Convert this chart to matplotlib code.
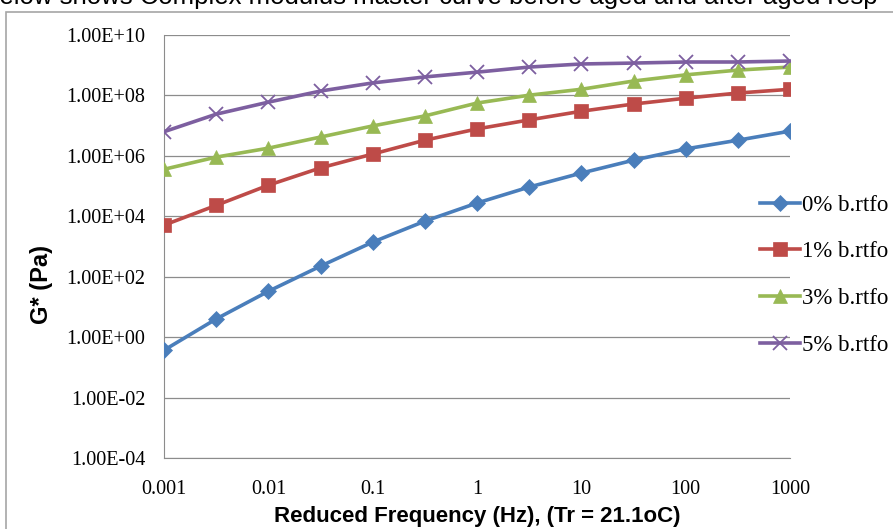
import matplotlib.pyplot as plt
import matplotlib.ticker as mticker
from matplotlib.patches import Rectangle

# reduced frequency (Hz), half-decade steps
freq = [0.001, 0.00316, 0.01, 0.0316, 0.1, 0.316, 1, 3.16, 10, 31.6, 100, 316, 1000]

# |G*| (Pa)
g_0pct = [0.37, 4.0, 33, 224, 1.4e3, 6.9e3, 2.75e4, 9.3e4, 2.7e5, 7.2e5, 1.7e6, 3.3e6, 6.6e6]
g_1pct = [5.1e3, 2.3e4, 1.07e5, 4.0e5, 1.15e6, 3.3e6, 7.8e6, 1.55e7, 3.0e7, 5.2e7, 8.1e7, 1.2e8, 1.6e8]
g_3pct = [3.6e5, 9.1e5, 1.8e6, 4.2e6, 9.8e6, 2.1e7, 5.6e7, 1.02e8, 1.6e8, 3.0e8, 4.8e8, 6.9e8, 8.7e8]
g_5pct = [6.3e6, 2.4e7, 6.0e7, 1.4e8, 2.6e8, 4.1e8, 5.9e8, 8.7e8, 1.1e9, 1.18e9, 1.28e9, 1.28e9, 1.38e9]

labels = ["0% b.rtfo", "1% b.rtfo", "3% b.rtfo", "5% b.rtfo"]
colors = ["#4A7EBB", "#BE4B48", "#98B954", "#7D5FA0"]
markers = ["D", "s", "^", "x"]

fig = plt.figure(figsize=(8.93, 5.29), dpi=100)
ax = fig.add_axes([0.1837, 0.1342, 0.701, 0.7996])

for vals, lab, c, m in zip([g_0pct, g_1pct, g_3pct, g_5pct], labels, colors, markers):
    ms = 8.5 if m == "D" else 9.5
    ax.plot(freq, vals, color=c, lw=2.6, marker=m, ms=ms, mew=1.3 if m == "x" else 0.5,
            mec=c, label=lab, zorder=3)

ax.set_xscale("log")
ax.set_yscale("log")
ax.set_xlim(0.001, 1000)
ax.set_ylim(1e-4, 1e10)
ax.set_yticks([10.0 ** k for k in range(-4, 11, 2)])
ax.yaxis.set_major_formatter(mticker.FuncFormatter(lambda v, p: "%.2E" % v))
ax.set_xticks([0.001, 0.01, 0.1, 1, 10, 100, 1000])
ax.set_xticklabels(["0.001", "0.01", "0.1", "1", "10", "100", "1000"])
ax.yaxis.set_minor_locator(mticker.NullLocator())
ax.xaxis.set_minor_locator(mticker.NullLocator())
ax.grid(axis="y", color="#8c8c8c", lw=0.9)
ax.tick_params(length=0, labelsize=14.5)
ax.tick_params(axis="x", pad=16)
ax.tick_params(axis="y", pad=13.5)
for t in ax.get_xticklabels() + ax.get_yticklabels():
    t.set_fontfamily("Liberation Serif")
for s in ["top", "right"]:
    ax.spines[s].set_visible(False)
for s in ["left", "bottom"]:
    ax.spines[s].set_color("#8c8c8c")

sans = ["Liberation Sans", "DejaVu Sans"]
fig.text(0.534, 0.024, "Reduced Frequency (Hz), (Tr = 21.1oC)", ha="center", va="center",
         fontsize=16, fontweight="bold", family=sans)
fig.text(0.046, 0.463, "G* (Pa)", rotation=90, ha="center", va="center",
         fontsize=17, fontweight="bold", family=sans)

fig.legend(loc="center left", bbox_to_anchor=(0.851, 0.480), frameon=False,
           borderaxespad=0, borderpad=0, handlelength=1.75, handletextpad=0.1,
           labelspacing=1.12, prop={"family": "Liberation Serif", "size": 16.5})

# cut-off line of text above the chart and the chart frame
fig.text(-0.017, 1.006, "below shows Complex modulus master curve before aged and after aged resp",
         fontsize=18.5, family=sans, va="center", ha="left")
fig.patches.append(Rectangle((0.007, -0.01), 1.0, 0.987, transform=fig.transFigure,
                             fill=False, ec="#a6a6a6", lw=1.2))

fig.savefig("out.png", dpi=100)
